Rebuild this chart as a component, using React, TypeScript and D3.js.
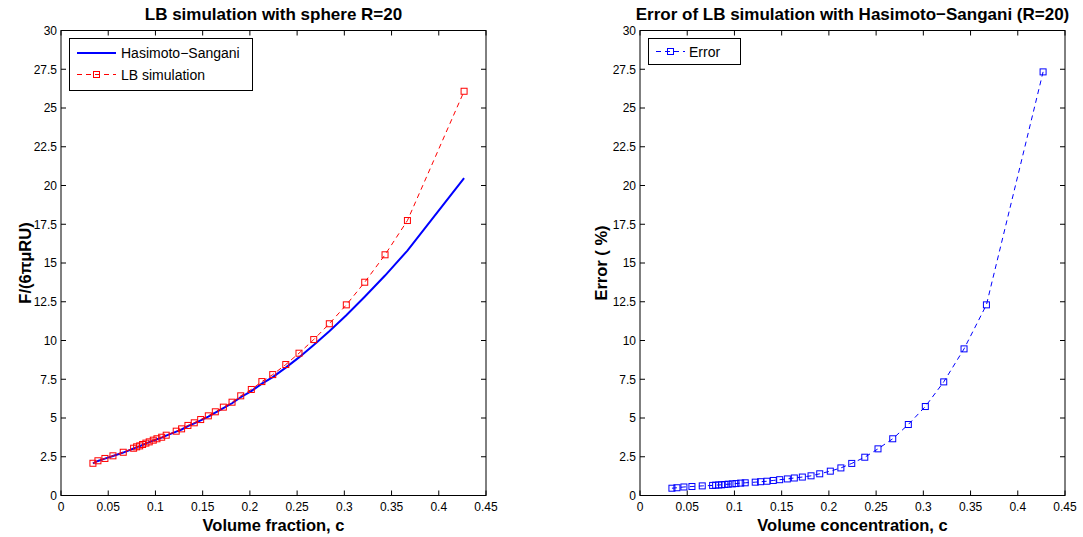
import React from "react";
import * as d3 from "d3";

// Volume fraction c (shared by both panels)
const volumeFraction = [
  0.0338, 0.0391, 0.0465, 0.055, 0.0659, 0.0769, 0.0801, 0.0833, 0.0864, 0.0899,
  0.0934, 0.0977, 0.1016, 0.1066, 0.1114, 0.122, 0.1277, 0.1344, 0.1411, 0.1479,
  0.156, 0.1634, 0.1719, 0.1811, 0.1903, 0.2015, 0.2127, 0.2242, 0.238, 0.252,
  0.2676, 0.2841, 0.3021, 0.3216, 0.3431, 0.3668, 0.4268,
];

// LB simulation drag F/(6 pi mu R U)
const lbForce = [
  2.08, 2.24, 2.39, 2.56, 2.79, 3.05, 3.14, 3.2, 3.29, 3.38,
  3.46, 3.57, 3.66, 3.76, 3.89, 4.15, 4.3, 4.52, 4.69, 4.9,
  5.14, 5.4, 5.7, 6.02, 6.43, 6.84, 7.35, 7.8, 8.45, 9.18,
  10.06, 11.08, 12.3, 13.76, 15.53, 17.74, 26.08,
];

// Hasimoto-Sangani drag
const hsForce = [
  2.07, 2.23, 2.38, 2.55, 2.77, 3.03, 3.12, 3.18, 3.27, 3.36,
  3.44, 3.54, 3.63, 3.73, 3.86, 4.12, 4.26, 4.48, 4.65, 4.85,
  5.09, 5.34, 5.63, 5.95, 6.34, 6.73, 7.22, 7.64, 8.25, 8.91,
  9.71, 10.6, 11.63, 12.82, 14.19, 15.8, 20.48,
];

// Error (%) of LB vs Hasimoto-Sangani
const errorPct = [
  0.47, 0.5, 0.55, 0.58, 0.62, 0.65, 0.67, 0.68, 0.69, 0.71,
  0.73, 0.75, 0.77, 0.8, 0.82, 0.86, 0.89, 0.92, 0.97, 1.02,
  1.07, 1.13, 1.19, 1.27, 1.4, 1.57, 1.78, 2.07, 2.47, 3.01,
  3.66, 4.58, 5.74, 7.33, 9.46, 12.3, 27.33,
];

const xTicks = [0, 0.05, 0.1, 0.15, 0.2, 0.25, 0.3, 0.35, 0.4, 0.45];
const xTickLabels = ["0", "0.05", "0.1", "0.15", "0.2", "0.25", "0.3", "0.35", "0.4", "0.45"];
const yTicks = [0, 2.5, 5, 7.5, 10, 12.5, 15, 17.5, 20, 22.5, 25, 27.5, 30];
const yTickLabels = ["0", "2.5", "5", "7.5", "10", "12.5", "15", "17.5", "20", "22.5", "25", "27.5", "30"];

const FONT = "'Liberation Sans', Arial, Helvetica, sans-serif";
const BLUE = "#0000ff";
const RED = "#ff0000";

type PanelProps = {
  x0: number;
  x1: number;
  title: string;
  xLabel: string;
  yLabel: React.ReactNode;
  yLabelX: number;
  children: (x: d3.ScaleLinear<number, number>, y: d3.ScaleLinear<number, number>) => React.ReactNode;
};

const TOP = 30.5;
const BOTTOM = 495.5;

function Panel({ x0, x1, title, xLabel, yLabel, yLabelX, children }: PanelProps) {
  const x = d3.scaleLinear().domain([0, 0.45]).range([x0, x1]);
  const y = d3.scaleLinear().domain([0, 30]).range([BOTTOM, TOP]);
  const tl = 5;
  const cx = (x0 + x1) / 2;
  return (
    <g>
      <rect x={x0} y={TOP} width={x1 - x0} height={BOTTOM - TOP} fill="white" />
      <g>{children(x, y)}</g>
      <rect x={x0} y={TOP} width={x1 - x0} height={BOTTOM - TOP} fill="none" stroke="black" strokeWidth={1} />
      {xTicks.map((t, i) => (
        <g key={"xt" + i}>
          <line x1={x(t)} x2={x(t)} y1={BOTTOM} y2={BOTTOM - tl} stroke="black" />
          <line x1={x(t)} x2={x(t)} y1={TOP} y2={TOP + tl} stroke="black" />
          <text x={x(t)} y={BOTTOM + 15.5} textAnchor="middle" fontFamily={FONT} fontSize={12}>
            {xTickLabels[i]}
          </text>
        </g>
      ))}
      {yTicks.map((t, i) => (
        <g key={"yt" + i}>
          <line x1={x0} x2={x0 + tl} y1={y(t)} y2={y(t)} stroke="black" />
          <line x1={x1} x2={x1 - tl} y1={y(t)} y2={y(t)} stroke="black" />
          <text x={x0 - 4} y={y(t) + 4.3} textAnchor="end" fontFamily={FONT} fontSize={12}>
            {yTickLabels[i]}
          </text>
        </g>
      ))}
      <text x={cx} y={20} textAnchor="middle" fontFamily={FONT} fontWeight="bold" fontSize={17}>
        {title}
      </text>
      <text x={cx} y={531} textAnchor="middle" fontFamily={FONT} fontWeight="bold" fontSize={16.5}>
        {xLabel}
      </text>
      <text
        transform={`translate(${yLabelX},${(TOP + BOTTOM) / 2}) rotate(-90)`}
        textAnchor="middle"
        fontFamily={FONT}
        fontWeight="bold"
        fontSize={16.5}
      >
        {yLabel}
      </text>
    </g>
  );
}

function Square({ cx, cy, color }: { cx: number; cy: number; color: string }) {
  const s = 6;
  return <rect x={cx - s / 2} y={cy - s / 2} width={s} height={s} fill="none" stroke={color} strokeWidth={1} />;
}

export default function App() {
  const idx = volumeFraction.map((_, i) => i);
  return (
    <svg
      width={1083}
      height={537}
      style={{ position: "absolute", left: 0, top: 0, background: "white" }}
    >
      <rect width={1083} height={537} fill="white" />
      <Panel
        x0={61}
        x1={486}
        title="LB simulation with sphere R=20"
        xLabel="Volume fraction, c"
        yLabel="F/(6πμRU)"
        yLabelX={31}
      >
        {(x, y) => {
          const line = d3
            .line<number>()
            .x((i) => x(volumeFraction[i]))
            .y((i) => y(hsForce[i]));
          const lineLB = d3
            .line<number>()
            .x((i) => x(volumeFraction[i]))
            .y((i) => y(lbForce[i]));
          return (
            <g>
              <path d={line(idx) || ""} fill="none" stroke={BLUE} strokeWidth={2} />
              <path d={lineLB(idx) || ""} fill="none" stroke={RED} strokeWidth={1} strokeDasharray="5,4" />
              {idx.map((i) => (
                <Square key={i} cx={x(volumeFraction[i])} cy={y(lbForce[i])} color={RED} />
              ))}
              <rect x={69.5} y={38.5} width={183} height={52} fill="white" stroke="black" />
              <line x1={77} x2={116} y1={53} y2={53} stroke={BLUE} strokeWidth={2} />
              <text x={121} y={58} fontFamily={FONT} fontSize={14}>
                Hasimoto−Sangani
              </text>
              <line x1={77} x2={116} y1={74.5} y2={74.5} stroke={RED} strokeWidth={1} strokeDasharray="5,4" />
              <Square cx={96.5} cy={74.5} color={RED} />
              <text x={121} y={79.5} fontFamily={FONT} fontSize={14}>
                LB simulation
              </text>
            </g>
          );
        }}
      </Panel>
      <Panel
        x0={640}
        x1={1065}
        title="Error of LB simulation with Hasimoto−Sangani (R=20)"
        xLabel="Volume concentration, c"
        yLabel="Error ( %)"
        yLabelX={607}
      >
        {(x, y) => {
          const line = d3
            .line<number>()
            .x((i) => x(volumeFraction[i]))
            .y((i) => y(errorPct[i]));
          return (
            <g>
              <path d={line(idx) || ""} fill="none" stroke={BLUE} strokeWidth={1} strokeDasharray="5,4" />
              {idx.map((i) => (
                <Square key={i} cx={x(volumeFraction[i])} cy={y(errorPct[i])} color={BLUE} />
              ))}
              <rect x={648.5} y={38.5} width={92} height={26} fill="white" stroke="black" />
              <line x1={656} x2={685} y1={51.5} y2={51.5} stroke={BLUE} strokeWidth={1} strokeDasharray="5,4" />
              <Square cx={670.5} cy={51.5} color={BLUE} />
              <text x={689} y={56.5} fontFamily={FONT} fontSize={14}>
                Error
              </text>
            </g>
          );
        }}
      </Panel>
    </svg>
  );
}
